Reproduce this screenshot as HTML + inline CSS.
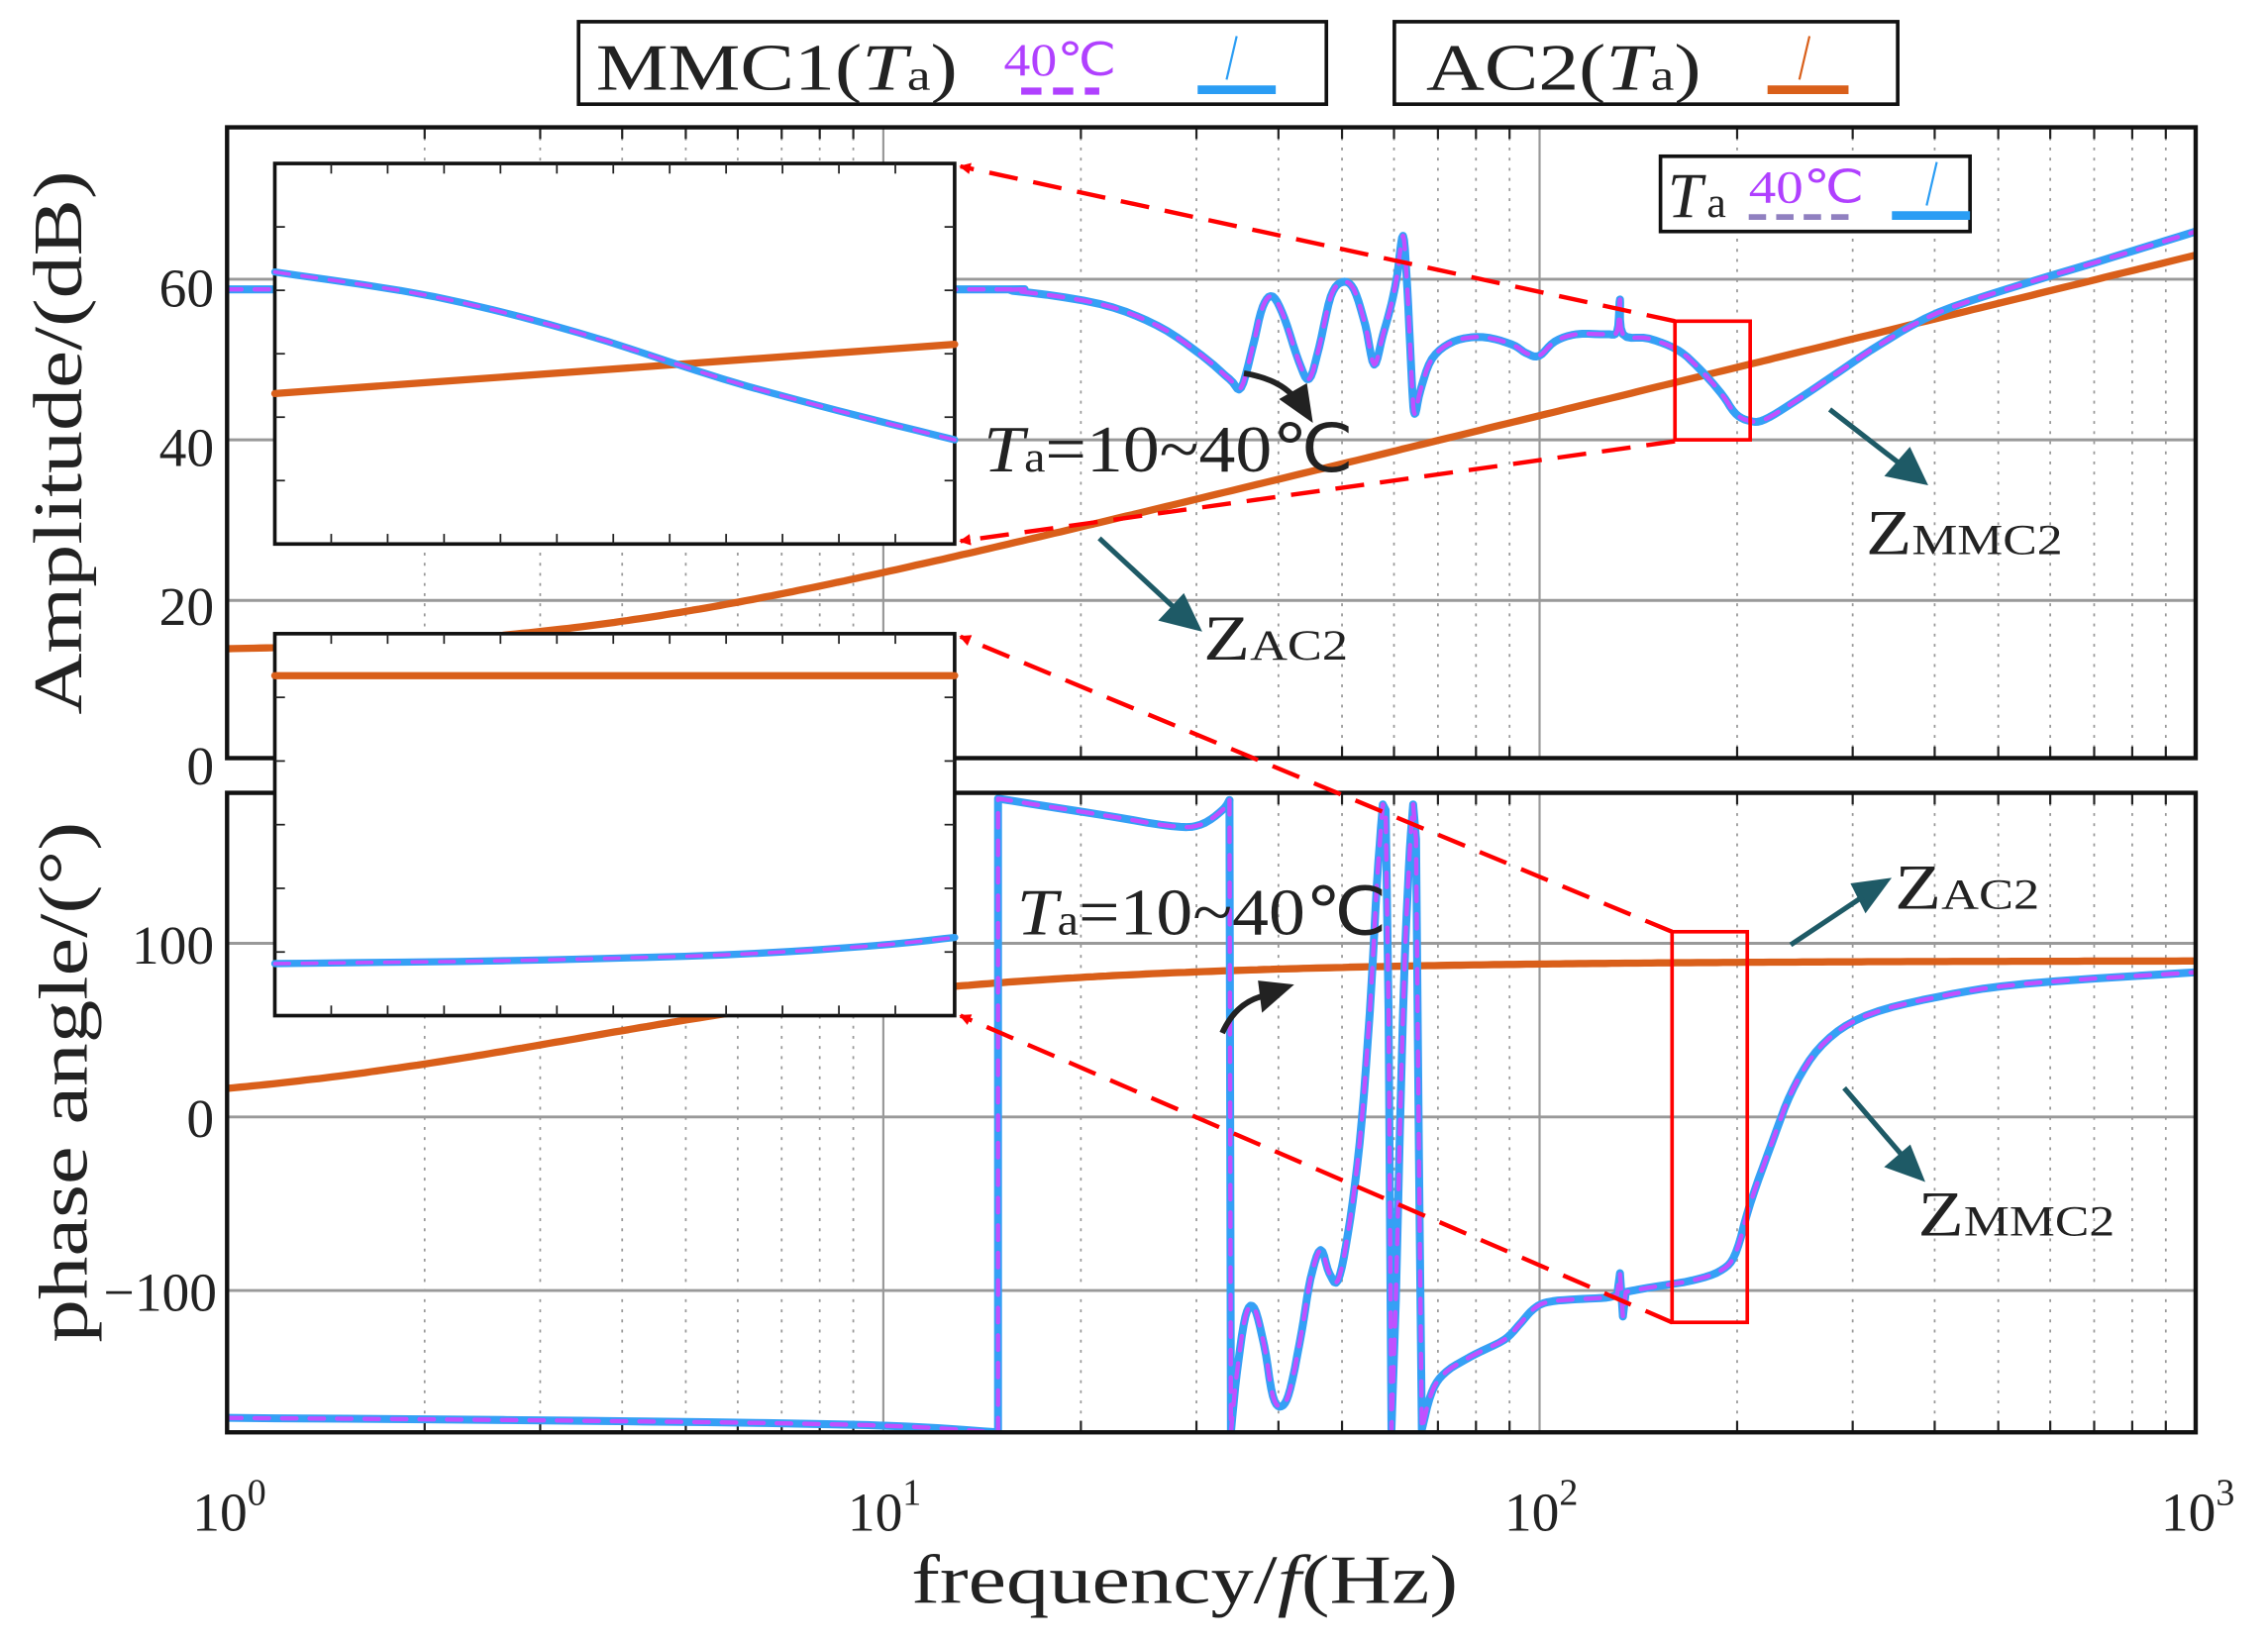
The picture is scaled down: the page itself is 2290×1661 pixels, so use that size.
<!DOCTYPE html>
<html><head><meta charset="utf-8"><style>html,body{margin:0;padding:0;background:#fff}svg{display:block}text{font-family:"Liberation Serif",serif;fill:#222}</style></head><body>
<svg id="s" width="2290" height="1661" viewBox="0 0 1568 1137" preserveAspectRatio="none" xmlns="http://www.w3.org/2000/svg">
<defs>
<marker id="ar" markerWidth="8" markerHeight="8" refX="7" refY="4" orient="auto" markerUnits="userSpaceOnUse"><path d="M0,0 L8,4 L0,8z" fill="red"/></marker>
<clipPath id="c1"><rect x="157" y="88" width="1361" height="436"/></clipPath>
<clipPath id="c2"><rect x="157" y="548" width="1361" height="442"/></clipPath>
</defs>
<rect width="1568" height="1137" fill="#fff"/>
<g id="grid"></g>
<g id="curves"></g>
<!-- legends -->
<rect x="400" y="15" width="517" height="57" fill="#fff" stroke="#111" stroke-width="2.5"/>
<text x="412" y="62" font-size="46" textLength="250" lengthAdjust="spacingAndGlyphs">MMC1(<tspan font-style="italic">T</tspan><tspan font-size="30">a</tspan>)</text>
<text x="694" y="52" font-size="32" style="fill:#b040ff" textLength="78" lengthAdjust="spacingAndGlyphs">40℃</text>
<line x1="706" y1="63" x2="760" y2="63" stroke="#b040ff" stroke-width="5" stroke-dasharray="14,8"/>
<line x1="828" y1="62" x2="882" y2="62" stroke="#2a9df4" stroke-width="6"/>
<line x1="848" y1="55" x2="855" y2="25" stroke="#2a9df4" stroke-width="1.5"/>
<rect x="964" y="15" width="348" height="57" fill="#fff" stroke="#111" stroke-width="2.5"/>
<text x="986" y="62" font-size="46" textLength="190" lengthAdjust="spacingAndGlyphs">AC2(<tspan font-style="italic">T</tspan><tspan font-size="30">a</tspan>)</text>
<line x1="1222" y1="62" x2="1278" y2="62" stroke="#d95f1a" stroke-width="6"/>
<line x1="1244" y1="55" x2="1251" y2="25" stroke="#d95f1a" stroke-width="1.5"/>
<g id="top"></g>
<rect x="1148" y="108" width="214" height="52" fill="#fff" stroke="#111" stroke-width="2.5"/>
<text x="1153" y="150" font-size="44" font-style="italic" textLength="24" lengthAdjust="spacingAndGlyphs">T</text>
<text x="1180" y="150" font-size="30">a</text>
<text x="1209" y="140" font-size="32" style="fill:#b040ff" textLength="80" lengthAdjust="spacingAndGlyphs">40℃</text>
<line x1="1209" y1="150" x2="1278" y2="150" stroke="#9080c0" stroke-width="4" stroke-dasharray="12,7"/>
<line x1="1308" y1="149" x2="1362" y2="149" stroke="#2a9df4" stroke-width="6"/>
<line x1="1332" y1="142" x2="1339" y2="112" stroke="#2a9df4" stroke-width="1.5"/>
<text x="680" y="326" font-size="46" textLength="256" lengthAdjust="spacingAndGlyphs"><tspan font-style="italic">T</tspan><tspan font-size="30">a</tspan>=10~40℃</text>
<text x="703" y="646" font-size="46" textLength="256" lengthAdjust="spacingAndGlyphs"><tspan font-style="italic">T</tspan><tspan font-size="30">a</tspan>=10~40℃</text>
<text x="1290" y="383" font-size="44" textLength="136" lengthAdjust="spacingAndGlyphs">Z<tspan font-size="30">MMC2</tspan></text>
<text x="1326" y="854" font-size="44" textLength="136" lengthAdjust="spacingAndGlyphs">Z<tspan font-size="30">MMC2</tspan></text>
<text x="832" y="456" font-size="44" textLength="100" lengthAdjust="spacingAndGlyphs">Z<tspan font-size="30">AC2</tspan></text>
<text x="1310" y="628" font-size="44" textLength="100" lengthAdjust="spacingAndGlyphs">Z<tspan font-size="30">AC2</tspan></text>
<g font-size="38">
<text x="148" y="212" text-anchor="end">60</text>
<text x="148" y="322" text-anchor="end">40</text>
<text x="148" y="432" text-anchor="end">20</text>
<text x="148" y="542" text-anchor="end">0</text>
<text x="148" y="666" text-anchor="end">100</text>
<text x="148" y="786" text-anchor="end">0</text>
<text x="150" y="906" text-anchor="end">−100</text>
<text x="133" y="1058">10<tspan font-size="26" dy="-18">0</tspan></text>
<text x="586" y="1058">10<tspan font-size="26" dy="-18">1</tspan></text>
<text x="1040" y="1058">10<tspan font-size="26" dy="-18">2</tspan></text>
<text x="1494" y="1058">10<tspan font-size="26" dy="-18">3</tspan></text>
</g>
<text x="630" y="1108" font-size="48" textLength="378" lengthAdjust="spacingAndGlyphs">frequency/<tspan font-style="italic">f</tspan>(Hz)</text>
<text transform="translate(56,494) rotate(-90)" font-size="48" textLength="376" lengthAdjust="spacingAndGlyphs">Amplitude/(dB)</text>
<text transform="translate(60,928) rotate(-90)" font-size="48" textLength="360" lengthAdjust="spacingAndGlyphs">phase angle/(°)</text>
<g stroke="#1e5a66" stroke-width="3.5" fill="#1e5a66">
<line x1="1265" y1="283" x2="1318" y2="324"/><path d="M1330,333 L1306,328 L1320,312z"/>
<line x1="760" y1="372" x2="816" y2="424"/><path d="M828,434 L804,428 L818,413z"/>
<line x1="1238" y1="653" x2="1292" y2="617"/><path d="M1304,609 L1290,628 L1282,612z"/>
<line x1="1275" y1="752" x2="1318" y2="802"/><path d="M1328,814 L1306,806 L1320,794z"/>
</g>
<g stroke="#222" stroke-width="4" fill="#222">
<path d="M860,258 Q885,262 896,276" fill="none"/><path d="M905,288 L888,276 L902,268z"/>
<path d="M845,714 Q855,692 875,688" fill="none"/><path d="M890,682 L874,696 L872,680z"/>
</g>
</svg>
<script>
const X=f=>157+453.7*Math.log10(f);
const YA=d=>526-5.55*d, YP=p=>772-1.2*p;
const NS='http://www.w3.org/2000/svg';
function el(g,tag,a){const e=document.createElementNS(NS,tag);for(const k in a)e.setAttribute(k,a[k]);g.appendChild(e);return e;}
const G=document.getElementById('grid'), C=document.getElementById('curves');
const axes=[[88,524],[548,990]];
for(const [t,b] of axes){
 for(let d=0;d<3;d++)for(let m=2;m<=9;m++){const x=X(m*Math.pow(10,d));el(G,'line',{x1:x,x2:x,y1:t,y2:b,stroke:'#999','stroke-width':1.2,'stroke-dasharray':'2,5'});el(G,'line',{x1:x,x2:x,y1:t,y2:t+8,stroke:'#222','stroke-width':1.5});el(G,'line',{x1:x,x2:x,y1:b,y2:b-8,stroke:'#222','stroke-width':1.5});}
 for(let d=1;d<3;d++){const x=X(Math.pow(10,d));el(G,'line',{x1:x,x2:x,y1:t,y2:b,stroke:'#999','stroke-width':1.5});}
}
for(const y of [YA(20),YA(40),YA(60)])el(G,'line',{x1:157,x2:1518,y1:y,y2:y,stroke:'#999','stroke-width':2});
for(const y of [YP(100),YP(0),YP(-100)])el(G,'line',{x1:157,x2:1518,y1:y,y2:y,stroke:'#999','stroke-width':2});
function pl(pts){return pts.map(p=>p[0].toFixed(1)+','+p[1].toFixed(1)).join(' ');}
function draw(g,pts,color,w,dash){const a={points:pl(pts),fill:'none',stroke:color,'stroke-width':w,'stroke-linejoin':'round','stroke-linecap':'round'};if(dash)a['stroke-dasharray']=dash;el(g,'polyline',a);}
function smooth(p){const out=[];for(let i=0;i<p.length-1;i++){const p0=p[Math.max(0,i-1)],p1=p[i],p2=p[i+1],p3=p[Math.min(p.length-1,i+2)];for(let t=0;t<1;t+=0.2){const t2=t*t,t3=t2*t;out.push([0.5*((2*p1[0])+(-p0[0]+p2[0])*t+(2*p0[0]-5*p1[0]+4*p2[0]-p3[0])*t2+(-p0[0]+3*p1[0]-3*p2[0]+p3[0])*t3),0.5*((2*p1[1])+(-p0[1]+p2[1])*t+(2*p0[1]-5*p1[1]+4*p2[1]-p3[1])*t2+(-p0[1]+3*p1[1]-3*p2[1]+p3[1])*t3)]);}}out.push(p[p.length-1]);return out;}
const A=el(C,'g',{'clip-path':'url(#c1)'}), P=el(C,'g',{'clip-path':'url(#c2)'});
const oa=[],op=[];
for(let i=0;i<=300;i++){const f=Math.pow(10,i/100),w=2*Math.PI*f*0.225,R=4.8;oa.push([X(f),YA(20*Math.log10(Math.hypot(R,w)))]);op.push([X(f),YP(Math.atan2(w,R)*180/Math.PI)]);}
draw(A,oa,'#d95f1a',5);draw(P,op,'#d95f1a',5);
const ba=smooth([[157,200],[660,200],[700,201],[760,210],[800,225],[830,245],[850,262],[858,268],[866,240],[873,212],[880,205],[888,220],[898,250],[905,262],[912,240],[920,205],[928,195],[936,200],[944,225],[950,252],[956,232],[962,210],[966,190],[970,163],[973,200],[976,262],[978,286],[982,270],[990,248],[1005,236],[1025,233],[1045,238],[1055,244],[1064,246],[1075,236],[1090,231],[1110,231],[1118,229],[1120,207],[1122,231],[1140,234],[1160,242],[1175,255],[1190,272],[1200,286],[1210,291],[1220,290],[1240,278],[1270,258],[1300,238],[1340,216],[1400,196],[1450,181],[1518,160]]);
const bp1=smooth([[157,980],[400,982],[600,985],[690,990]]);
const bp2=[[690,990],[690,552]].concat(smooth([[690,552],[760,563],[810,571],[830,570],[845,560],[850,553]]));
const bp3=[[850,553],[851,990]].concat(smooth([[851,990],[855,950],[861,910],[867,904],[874,930],[880,965],[886,972],[892,960],[900,920],[906,884],[913,864],[919,880],[925,885],[932,852],[940,790],[947,700],[952,610],[956,556]]),
 [[958,560],[960,700],[962,988],[965,900]],smooth([[965,900],[970,700],[974,600],[977,556]]),[[979,580],[981,800],[983,988]],
 smooth([[983,988],[990,962],[1000,948],[1020,936],[1040,926],[1050,916],[1060,905],[1070,900],[1090,898],[1110,897],[1118,895]]),[[1120,880],[1122,910],[1124,893]],
 smooth([[1124,893],[1140,890],[1170,885],[1190,878],[1200,866],[1210,832],[1225,790],[1240,752],[1260,722],[1290,702],[1340,689],[1400,680],[1518,672]]));
for(const [g,p] of [[A,ba],[P,bp1],[P,bp2],[P,bp3]]){draw(g,p,'#35a0f5',5.5);draw(g,p,'#c050ff',3,'10,9');}
for(const [t,b] of axes){el(C,'rect',{x:157,y:t,width:1361,height:b-t,fill:'none',stroke:'#111','stroke-width':3});}
function inset(y0,h){el(C,'rect',{x:190,y:y0,width:470,height:h,fill:'#fff',stroke:'#111','stroke-width':2.5});for(let i=1;i<12;i++){const x=190+i*39;el(C,'line',{x1:x,x2:x,y1:y0,y2:y0+7,stroke:'#222','stroke-width':1.2});el(C,'line',{x1:x,x2:x,y1:y0+h,y2:y0+h-7,stroke:'#222','stroke-width':1.2});}for(let i=1;i<6;i++){const y=y0+i*h/6;el(C,'line',{x1:190,x2:197,y1:y,y2:y,stroke:'#222','stroke-width':1.2});el(C,'line',{x1:660,x2:653,y1:y,y2:y,stroke:'#222','stroke-width':1.2});}}
inset(113,263);inset(438,264);
draw(C,[[190,272],[660,238]],'#d95f1a',5);
const ib=smooth([[190,188],[300,205],[400,230],[500,262],[580,284],[660,304]]);draw(C,ib,'#35a0f5',5);draw(C,ib,'#c050ff',2.5,'10,9');
draw(C,[[190,467],[660,467]],'#d95f1a',5);
const ib2=smooth([[190,666],[350,664],[500,660],[600,654],[660,648]]);draw(C,ib2,'#35a0f5',5);draw(C,ib2,'#c050ff',2.5,'10,9');
el(C,'rect',{x:1158,y:222,width:52,height:82,fill:'none',stroke:'red','stroke-width':2.5});
el(C,'rect',{x:1156,y:644,width:52,height:270,fill:'none',stroke:'red','stroke-width':2.5});
for(const [x1,y1,x2,y2] of [[1158,222,664,115],[1158,305,664,374],[1156,644,664,440],[1156,914,664,702]])el(C,'line',{x1,y1,x2,y2,stroke:'red','stroke-width':3,'stroke-dasharray':'20,11','marker-end':'url(#ar)'});
</script>
</body></html>
